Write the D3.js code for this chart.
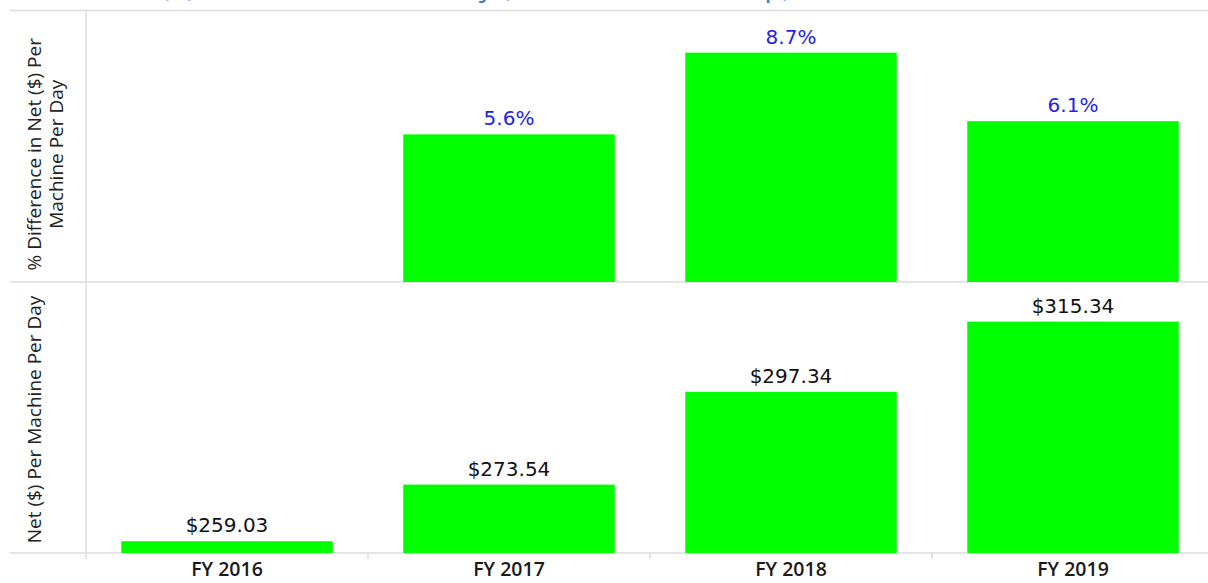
<!DOCTYPE html>
<html>
<head>
<meta charset="utf-8">
<script src="https://cdn.jsdelivr.net/npm/d3@7"></script>
<style>
  html, body { margin: 0; padding: 0; background: #fff; overflow: hidden; }
  svg { display: block; }
</style>
</head>
<body>
<svg width="1208" height="583"></svg>
<script>
const categories = ["FY 2016", "FY 2017", "FY 2018", "FY 2019"];
const netPerDay = [259.03, 273.54, 297.34, 315.34];
const pctDiff = [null, 5.6, 8.7, 6.1];
const titleText = "3. Net ($) Per Machine Per Day (All Machines Group)";

const svg = d3.select("svg");
const left = 86, right = 1214;
const topY = 10.5, midY = 282, botY = 553;
const gridColor = "#dcdcdc";

// x 스케일 (밴드)
const x = d3.scaleBand().domain(categories).range([left, right])
  .paddingInner(0.25).paddingOuter(0.125);
const gap = (x.step() - x.bandwidth()) / 2;

// y 스케일 - 위 패널(%), 아래 패널($)
const yPct = d3.scaleLinear().domain([0, 10.3]).range([midY, topY]);
const yNet = d3.scaleLinear().domain([256, 325.5]).range([botY, midY]);

// 위쪽이 잘린 제목 (원본 이미지에서도 잘려 있음)
svg.append("text")
  .attr("x", 70).attr("y", -4)
  .text(titleText)
  .style("font-family", "Open Sans, sans-serif")
  .style("font-size", "30px")
  .style("fill", "#3f7fca");

// 격자선
[topY, midY, botY].forEach((yy) => {
  svg.append("line")
    .attr("x1", 10).attr("x2", 1208)
    .attr("y1", yy).attr("y2", yy)
    .attr("stroke", gridColor).attr("stroke-width", 1.5);
});
svg.append("line")
  .attr("x1", left).attr("x2", left)
  .attr("y1", topY).attr("y2", botY + 6)
  .attr("stroke", gridColor).attr("stroke-width", 1.5);

// 밴드 사이 눈금
svg.selectAll(".tick-sep")
  .data(categories.slice(1))
  .enter()
  .append("line")
  .attr("x1", (d) => x(d) - gap).attr("x2", (d) => x(d) - gap)
  .attr("y1", botY).attr("y2", botY + 6)
  .attr("stroke", gridColor).attr("stroke-width", 1.5);

// 위 패널 막대
const pctData = categories.map((c, i) => ({ c, v: pctDiff[i] })).filter((d) => d.v != null);
svg.selectAll(".bar-pct")
  .data(pctData)
  .enter()
  .append("rect")
  .attr("x", (d) => x(d.c))
  .attr("width", x.bandwidth())
  .attr("y", (d) => yPct(d.v))
  .attr("height", (d) => midY - yPct(d.v))
  .attr("fill", "#00ff00");

svg.selectAll(".lbl-pct")
  .data(pctData)
  .enter()
  .append("text")
  .attr("x", (d) => x(d.c) + x.bandwidth() / 2)
  .attr("y", (d) => yPct(d.v) - 9)
  .attr("text-anchor", "middle")
  .text((d) => d.v.toFixed(1) + "%")
  .style("font-family", "DejaVu Sans, sans-serif")
  .style("font-size", "20px")
  .style("fill", "#2323e6");

// 아래 패널 막대
const netData = categories.map((c, i) => ({ c, v: netPerDay[i] }));
svg.selectAll(".bar-net")
  .data(netData)
  .enter()
  .append("rect")
  .attr("x", (d) => x(d.c))
  .attr("width", x.bandwidth())
  .attr("y", (d) => yNet(d.v))
  .attr("height", (d) => botY - yNet(d.v))
  .attr("fill", "#00ff00");

svg.selectAll(".lbl-net")
  .data(netData)
  .enter()
  .append("text")
  .attr("x", (d) => x(d.c) + x.bandwidth() / 2)
  .attr("y", (d) => yNet(d.v) - 9)
  .attr("text-anchor", "middle")
  .text((d) => "$" + d.v.toFixed(2))
  .style("font-family", "DejaVu Sans, sans-serif")
  .style("font-size", "20px")
  .style("fill", "#111");

// x축 라벨
svg.selectAll(".xlbl")
  .data(categories)
  .enter()
  .append("text")
  .attr("x", (d) => x(d) + x.bandwidth() / 2)
  .attr("y", 576)
  .attr("text-anchor", "middle")
  .text((d) => d)
  .style("font-family", "Open Sans, sans-serif")
  .style("font-weight", 600)
  .style("font-size", "19.5px")
  .style("fill", "#1a1a1a");

// y축 제목
function yTitle(lines, cy, x0) {
  lines.forEach((t, i) => {
    svg.append("text")
      .attr("transform", `translate(${x0 + i * 22}, ${cy}) rotate(-90)`)
      .attr("text-anchor", "middle")
      .text(t)
      .style("font-family", "Open Sans, sans-serif")
      .style("font-size", "19px")
      .style("fill", "#222");
  });
}
yTitle(["% Difference in Net ($) Per", "Machine Per Day"], (topY + midY) / 2 + 8, 41);
yTitle(["Net ($) Per Machine Per Day"], (midY + botY) / 2 + 2, 41);
</script>
</body>
</html>
